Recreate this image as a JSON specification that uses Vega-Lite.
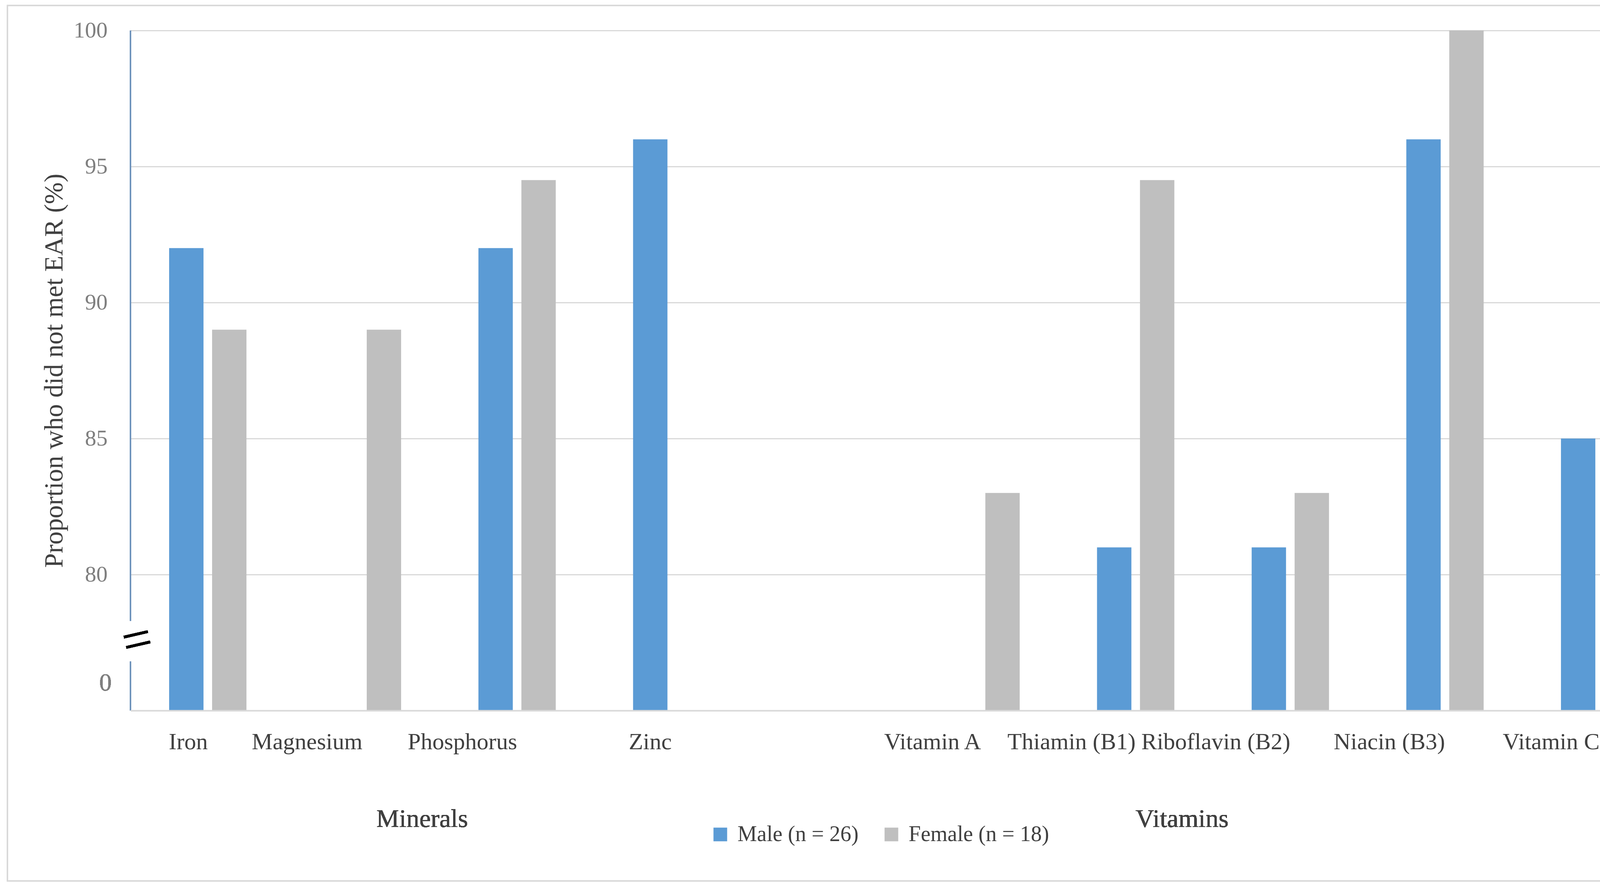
{
  "$schema": "https://vega.github.io/schema/vega-lite/v6.json",
  "width": 3959,
  "height": 1740,
  "autosize": {"type": "none"},
  "padding": {"left": 334, "top": 78, "right": 66, "bottom": 454},
  "background": "white",
  "config": {"view": {"stroke": null}, "font": "Liberation Serif"},
  "data": {
    "values": [
      {"nutrient": "Iron", "sex": "Male (n = 26)", "pct": 92},
      {"nutrient": "Iron", "sex": "Female (n = 18)", "pct": 89},
      {"nutrient": "Magnesium", "sex": "Female (n = 18)", "pct": 89},
      {"nutrient": "Phosphorus", "sex": "Male (n = 26)", "pct": 92},
      {"nutrient": "Phosphorus", "sex": "Female (n = 18)", "pct": 94.5},
      {"nutrient": "Zinc", "sex": "Male (n = 26)", "pct": 96},
      {"nutrient": "Vitamin A", "sex": "Female (n = 18)", "pct": 83},
      {"nutrient": "Thiamin (B1)", "sex": "Male (n = 26)", "pct": 81},
      {"nutrient": "Thiamin (B1)", "sex": "Female (n = 18)", "pct": 94.5},
      {"nutrient": "Riboflavin (B2)", "sex": "Male (n = 26)", "pct": 81},
      {"nutrient": "Riboflavin (B2)", "sex": "Female (n = 18)", "pct": 83},
      {"nutrient": "Niacin (B3)", "sex": "Male (n = 26)", "pct": 96},
      {"nutrient": "Niacin (B3)", "sex": "Female (n = 18)", "pct": 100},
      {"nutrient": "Vitamin C", "sex": "Male (n = 26)", "pct": 85},
      {"nutrient": "Vitamin C", "sex": "Female (n = 18)", "pct": 100}
    ]
  },
  "layer": [
    {
      "mark": {"type": "rect", "fill": "white", "fillOpacity": 0, "stroke": "#D9D9D9", "strokeWidth": 3},
      "encoding": {
        "x": {"datum": "Iron", "type": "nominal", "bandPosition": -0.795},
        "x2": {"datum": "Vitamin C", "bandPosition": 1.13},
        "y": {"datum": 100.92, "type": "quantitative"},
        "y2": {"datum": 68.74}
      }
    },
    {
      "mark": {"type": "bar"},
      "encoding": {
        "x": {
          "field": "nutrient",
          "type": "nominal",
          "scale": {
            "domain": ["Iron", "Magnesium", "Phosphorus", "Zinc", " ", "Vitamin A", "Thiamin (B1)", "Riboflavin (B2)", "Niacin (B3)", "Vitamin C"],
            "paddingInner": 0,
            "paddingOuter": 0
          },
          "axis": {
            "title": null,
            "labelAngle": 0,
            "labelFontSize": 60,
            "labelColor": "#404040",
            "labelLimit": 1000,
            "ticks": false,
            "domainColor": "#D9D9D9",
            "domainWidth": 4,
            "labelPadding": 80,
            "grid": false
          }
        },
        "xOffset": {
          "field": "sex",
          "type": "nominal",
          "scale": {"domain": ["Male (n = 26)", "Female (n = 18)"], "paddingInner": 0.2, "paddingOuter": 0.9}
        },
        "y": {
          "field": "pct",
          "type": "quantitative",
          "scale": {"domain": [75, 100], "nice": false, "zero": false},
          "axis": {
            "values": [80, 85, 90, 95, 100],
            "format": "d",
            "grid": true,
            "gridColor": "#D9D9D9",
            "gridWidth": 3,
            "domain": false,
            "ticks": false,
            "labelFontSize": 58,
            "labelColor": "#7F7F7F",
            "labelPadding": 59,
            "title": "Proportion who did not  met EAR (%)",
            "titleFontSize": 67,
            "titleFontWeight": "normal",
            "titleColor": "#404040",
            "titleX": -195,
            "titleY": 870,
            "titleAngle": -90,
            "titleBaseline": "middle",
            "titleAlign": "center"
          }
        },
        "y2": {"datum": 75},
        "color": {
          "field": "sex",
          "type": "nominal",
          "scale": {"domain": ["Male (n = 26)", "Female (n = 18)"], "range": ["#5B9BD5", "#BFBFBF"]},
          "legend": {
            "title": null,
            "orient": "none",
            "legendX": 1482,
            "legendY": 2029,
            "direction": "horizontal",
            "symbolType": "square",
            "symbolSize": 1225,
            "symbolStrokeWidth": 0,
            "symbolOpacity": 1,
            "labelFontSize": 56,
            "labelColor": "#404040",
            "labelOffset": 16,
            "columnPadding": 56,
            "padding": 0,
            "labelLimit": 1000
          }
        }
      }
    },
    {
      "mark": {"type": "rule", "color": "#6F93BB", "strokeWidth": 3},
      "encoding": {
        "x": {"datum": "Iron", "type": "nominal", "bandPosition": 0},
        "y": {"datum": 75, "type": "quantitative"},
        "y2": {"datum": 76.8}
      }
    },
    {
      "mark": {"type": "rule", "color": "#6F93BB", "strokeWidth": 3},
      "encoding": {
        "x": {"datum": "Iron", "type": "nominal", "bandPosition": 0},
        "y": {"datum": 78.3, "type": "quantitative"},
        "y2": {"datum": 100}
      }
    },
    {
      "mark": {"type": "text", "text": "=", "fontSize": 135, "angle": -13, "color": "black", "align": "center", "baseline": "middle", "dx": 18},
      "encoding": {
        "x": {"datum": "Iron", "type": "nominal", "bandPosition": 0},
        "y": {"datum": 77.5, "type": "quantitative"}
      }
    },
    {
      "mark": {"type": "text", "text": "0", "fontSize": 64, "color": "#7F7F7F", "align": "right", "baseline": "middle", "dx": -48},
      "encoding": {
        "x": {"datum": "Iron", "type": "nominal", "bandPosition": 0},
        "y": {"datum": 76, "type": "quantitative"}
      }
    },
    {
      "mark": {"type": "text", "text": "Minerals", "fontSize": 66, "color": "#404040", "align": "center", "baseline": "middle"},
      "encoding": {
        "x": {"datum": "Magnesium", "type": "nominal", "bandPosition": 0.886},
        "y": {"datum": 71, "type": "quantitative"}
      }
    },
    {
      "mark": {"type": "text", "text": "Vitamins", "fontSize": 66, "color": "#404040", "align": "center", "baseline": "middle"},
      "encoding": {
        "x": {"datum": "Thiamin (B1)", "type": "nominal", "bandPosition": 0.8},
        "y": {"datum": 71, "type": "quantitative"}
      }
    }
  ]
}
